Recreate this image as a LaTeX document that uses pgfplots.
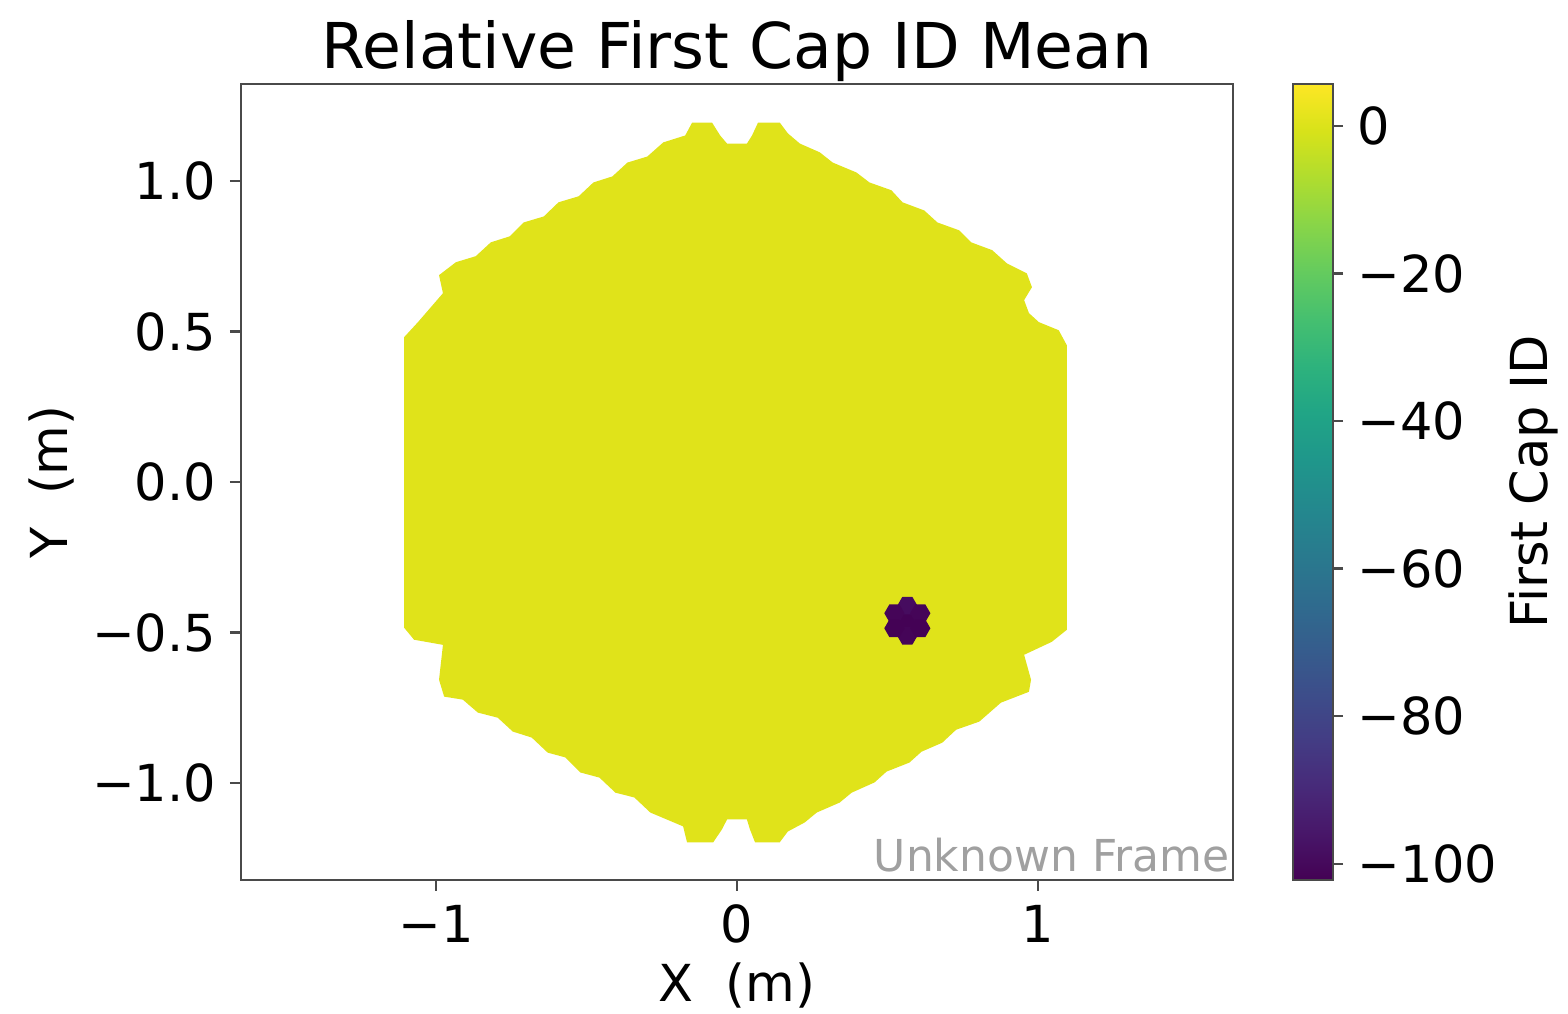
\documentclass[border=0pt]{standalone}
\usepackage{fontspec}
\setmainfont{DejaVu Sans}
\usepackage{pgfplots}
\pgfplotsset{compat=1.18}
\definecolor{camyellow}{HTML}{E0E31A}
\definecolor{framegray}{HTML}{4A4A4A}
\definecolor{notegray}{HTML}{A0A0A0}

% flat-topped hexagonal camera pixel
\pgfdeclareplotmark{hexpix}{%
  \pgfpathmoveto{\pgfpoint{\pgfplotmarksize}{0pt}}%
  \pgfpathlineto{\pgfpoint{0.5\pgfplotmarksize}{0.866\pgfplotmarksize}}%
  \pgfpathlineto{\pgfpoint{-0.5\pgfplotmarksize}{0.866\pgfplotmarksize}}%
  \pgfpathlineto{\pgfpoint{-\pgfplotmarksize}{0pt}}%
  \pgfpathlineto{\pgfpoint{-0.5\pgfplotmarksize}{-0.866\pgfplotmarksize}}%
  \pgfpathlineto{\pgfpoint{0.5\pgfplotmarksize}{-0.866\pgfplotmarksize}}%
  \pgfpathclose
  \pgfusepathqfillstroke
}

\newcommand{\tickfont}{\fontsize{12.75}{15}\selectfont}

\begin{document}
\begin{tikzpicture}
\begin{axis}[
  at={(60.25pt,33.5pt)}, anchor=south west,
  scale only axis, width=248pt, height=199pt,
  xmin=-1.648, xmax=1.648, ymin=-1.322, ymax=1.322,
  axis line style={framegray, line width=0.6pt},
  tick style={framegray, line width=0.6pt},
  tick align=outside, major tick length=2.75pt,
  xtick pos=bottom, ytick pos=left,
  xtick={-1,0,1}, xticklabels={−1,0,1},
  ytick={-1,-0.5,0,0.5,1}, yticklabels={−1.0,−0.5,0.0,0.5,1.0},
  ticklabel style={font=\tickfont},
  colorbar, colormap/viridis,
  point meta min=-102.2, point meta max=5.7,
  colorbar style={
    at={(parent axis.north east)}, anchor=north west, xshift=6.5pt,
    width=10pt,
    axis line style={framegray, line width=0.6pt},
    tick style={framegray, line width=0.6pt},
    tick align=outside, major tick length=2.5pt,
    ytick pos=right,
    ytick={-100,-80,-60,-40,-20,0},
    yticklabels={−100,−80,−60,−40,−20,0},
    yticklabel style={font=\tickfont, anchor=west},
  },
  clip=false,
]
% camera outline (pixels of nearly uniform value)
\addplot[fill=camyellow, draw=none, forget plot] coordinates {
(-1.106,0.481) (-1.060,0.531) (-0.977,0.627) (-0.990,0.687) (-0.934,0.730)
(-0.868,0.750) (-0.818,0.796) (-0.755,0.816) (-0.709,0.862) (-0.642,0.882)
(-0.593,0.929) (-0.526,0.949) (-0.477,0.995) (-0.414,1.015) (-0.364,1.061)
(-0.298,1.081) (-0.245,1.128) (-0.172,1.151) (-0.149,1.194) (-0.083,1.194)
(-0.056,1.151) (-0.033,1.124) (0.033,1.124) (0.050,1.151) (0.070,1.194)
(0.142,1.194) (0.169,1.158) (0.209,1.124) (0.275,1.095) (0.318,1.061)
(0.397,1.028) (0.440,0.995) (0.513,0.969) (0.550,0.929) (0.622,0.902)
(0.666,0.862) (0.738,0.836) (0.778,0.796) (0.848,0.770) (0.897,0.726)
(0.963,0.693) (0.980,0.647) (0.954,0.604) (0.970,0.561) (1.003,0.531)
(1.069,0.504) (1.096,0.454)
(1.096,-0.491) (1.046,-0.531) (0.954,-0.574) (0.977,-0.657) (0.970,-0.697)
(0.877,-0.733) (0.805,-0.796) (0.728,-0.823) (0.682,-0.866) (0.613,-0.896)
(0.573,-0.932) (0.497,-0.962) (0.457,-0.998) (0.381,-1.032) (0.341,-1.065)
(0.265,-1.098) (0.225,-1.131) (0.169,-1.161) (0.142,-1.197) (0.060,-1.197)
(0.043,-1.154) (0.033,-1.121) (-0.033,-1.121) (-0.050,-1.154) (-0.079,-1.197)
(-0.166,-1.197) (-0.179,-1.144) (-0.288,-1.098) (-0.341,-1.048) (-0.404,-1.032)
(-0.457,-0.982) (-0.520,-0.965) (-0.570,-0.915) (-0.629,-0.899) (-0.682,-0.849)
(-0.745,-0.829) (-0.795,-0.783) (-0.861,-0.766) (-0.911,-0.723) (-0.973,-0.713)
(-0.990,-0.657) (-0.977,-0.541) (-1.073,-0.524) (-1.106,-0.484)
} -- cycle;
% the one module far below the rest
\addplot[scatter, only marks, mark=hexpix, mark size=2.3pt,
  scatter/use mapped color={draw=mapped color, fill=mapped color},
  point meta=explicit] coordinates {
(0.566,-0.461) [-102]
(0.566,-0.411) [-99]
(0.566,-0.511) [-101]
(0.609,-0.436) [-101]
(0.609,-0.486) [-102]
(0.523,-0.436) [-101]
(0.523,-0.486) [-102]
};
\node[anchor=base, font=\fontsize{15.8}{18}\selectfont, inner sep=0pt]
  at (rel axis cs:0.5,1) [yshift=3.75pt] {Relative First Cap ID Mean};
\node[anchor=north, font=\tickfont, inner sep=0pt]
  at (rel axis cs:0.5,0) [yshift=-20.5pt] {X~~(m)};
\node[xshift=-41.5pt, rotate=90, anchor=south, font=\tickfont, inner sep=0pt]
  at (rel axis cs:0,0.5) {Y~~(m)};
\node[xshift=68.75pt, rotate=90, anchor=north, font=\tickfont, inner sep=0pt]
  at (rel axis cs:1,0.5) {First Cap ID};
\node[anchor=base east, text=notegray, font=\fontsize{11}{13}\selectfont, inner sep=0pt]
  at (rel axis cs:1,0) [xshift=-0.75pt, yshift=2pt] {Unknown Frame};
\end{axis}
\pgfresetboundingbox
\path[use as bounding box] (0,0) rectangle (392pt,253.5pt);
\end{tikzpicture}
\end{document}
